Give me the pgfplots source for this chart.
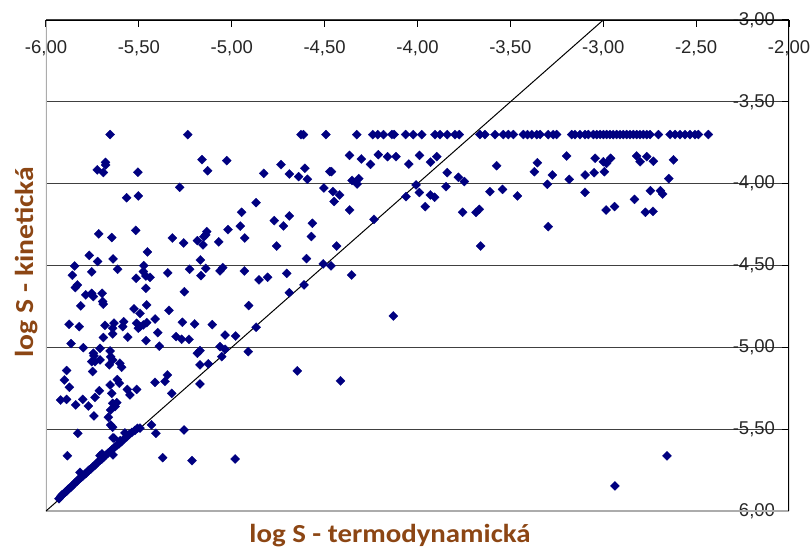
\documentclass[border=0pt]{standalone}
\usepackage{pgfplots}
\pgfplotsset{compat=1.18}
\usepackage{pgfplotstable}
\usepackage{fontspec}
\setmainfont{Liberation Sans}
\newfontfamily\calibri{Carlito}
\definecolor{navy}{RGB}{0,0,128}
\definecolor{lbl}{RGB}{140,70,20}

\pgfplotstableread{
x y
-5.655 -3.70
-5.237 -3.70
-4.627 -3.70
-4.614 -3.70
-4.493 -3.70
-4.327 -3.70
-4.241 -3.70
-4.214 -3.70
-4.183 -3.70
-4.138 -3.70
-4.126 -3.70
-4.064 -3.70
-4.023 -3.70
-3.977 -3.70
-3.906 -3.70
-3.879 -3.70
-3.840 -3.70
-3.798 -3.70
-3.775 -3.70
-3.664 -3.70
-3.637 -3.70
-3.583 -3.70
-3.538 -3.70
-3.511 -3.70
-3.484 -3.70
-3.430 -3.70
-3.408 -3.70
-3.385 -3.70
-3.358 -3.70
-3.340 -3.70
-3.296 -3.70
-3.269 -3.70
-3.251 -3.70
-3.170 -3.70
-3.152 -3.70
-3.125 -3.70
-3.098 -3.70
-3.080 -3.70
-3.053 -3.70
-3.035 -3.70
-3.017 -3.70
-2.999 -3.70
-2.982 -3.70
-2.964 -3.70
-2.946 -3.70
-2.928 -3.70
-2.910 -3.70
-2.892 -3.70
-2.874 -3.70
-2.856 -3.70
-2.838 -3.70
-2.820 -3.70
-2.802 -3.70
-2.784 -3.70
-2.766 -3.70
-2.748 -3.70
-2.703 -3.70
-2.640 -3.70
-2.613 -3.70
-2.587 -3.70
-2.560 -3.70
-2.533 -3.70
-2.506 -3.70
-2.488 -3.70
-2.434 -3.70
}\toprow

\pgfplotstableread{
x y
-5.680 -3.870
-5.724 -3.916
-5.691 -3.932
-5.679 -3.886
-5.505 -3.930
-5.160 -3.853
-5.027 -3.859
-5.130 -3.921
-5.280 -4.022
-5.566 -4.086
-5.503 -4.075
-4.947 -4.175
-4.954 -4.259
-4.930 -4.332
-5.020 -4.281
-5.135 -4.293
-5.140 -4.313
-5.150 -4.324
-5.185 -4.348
-5.155 -4.374
-5.070 -4.356
-5.259 -4.362
-5.320 -4.332
-5.517 -4.285
-5.646 -4.329
-5.716 -4.307
-5.454 -4.417
-5.767 -4.438
-5.722 -4.476
-5.639 -4.460
-5.846 -4.503
-5.614 -4.523
-5.474 -4.501
-5.476 -4.537
-5.754 -4.539
-5.858 -4.560
-5.515 -4.578
-5.462 -4.564
-5.440 -4.572
-5.345 -4.545
-5.227 -4.523
-5.169 -4.466
-5.140 -4.517
-5.166 -4.562
-5.063 -4.533
-5.049 -4.513
-4.932 -4.533
-5.831 -4.619
-5.842 -4.635
-5.786 -4.680
-5.754 -4.670
-5.745 -4.690
-5.698 -4.670
-5.695 -4.720
-5.692 -4.736
-5.813 -4.747
-5.462 -4.639
-5.255 -4.660
-5.458 -4.741
-5.526 -4.765
-5.494 -4.792
-5.338 -4.774
-4.909 -4.745
-5.876 -4.859
-5.821 -4.873
-5.682 -4.866
-5.634 -4.852
-5.641 -4.883
-5.582 -4.843
-5.587 -4.873
-5.641 -4.918
-5.691 -4.940
-5.560 -4.938
-5.512 -4.853
-5.494 -4.873
-5.503 -4.883
-5.476 -4.863
-5.458 -4.849
-5.413 -4.827
-5.398 -4.910
-5.462 -4.959
-5.266 -4.847
-5.200 -4.857
-5.105 -4.861
-5.300 -4.934
-5.270 -4.951
-5.230 -4.951
-5.036 -4.925
-4.979 -4.931
-5.865 -4.977
-5.799 -5.002
-5.709 -5.006
-5.745 -5.036
-5.742 -5.052
-5.754 -5.087
-5.736 -5.087
-5.709 -5.077
-5.749 -5.148
-5.655 -5.022
-5.652 -5.057
-5.641 -5.077
-5.602 -5.097
-5.593 -5.122
-5.659 -5.107
-5.390 -4.993
-5.185 -5.036
-5.171 -5.020
-5.063 -4.996
-5.036 -5.012
-4.911 -5.026
-5.171 -5.107
-5.126 -5.101
-5.054 -5.057
-5.889 -5.142
-5.901 -5.199
-5.874 -5.244
-5.921 -5.322
-5.889 -5.318
-5.840 -5.352
-5.802 -5.318
-5.772 -5.358
-5.736 -5.306
-5.713 -5.265
-5.742 -5.419
-5.655 -5.230
-5.616 -5.197
-5.605 -5.220
-5.646 -5.281
-5.641 -5.342
-5.619 -5.338
-5.628 -5.362
-5.652 -5.383
-5.664 -5.427
-5.562 -5.257
-5.548 -5.291
-5.512 -5.257
-5.652 -5.474
-5.641 -5.488
-5.634 -5.555
-5.413 -5.214
-5.359 -5.208
-5.347 -5.169
-5.323 -5.281
-5.171 -5.224
-5.494 -5.494
-5.432 -5.474
-5.408 -5.525
-5.257 -5.505
-5.829 -5.525
-5.885 -5.662
-5.372 -5.674
-5.214 -5.692
-4.982 -5.682
-5.817 -5.764
-5.709 -5.662
-5.700 -5.678
-5.698 -5.651
-5.639 -5.657
-5.639 -5.553
-5.575 -5.523
-5.600 -5.570
-4.735 -3.884
-4.828 -3.937
-4.690 -3.941
-4.640 -3.957
-4.606 -3.906
-4.593 -3.973
-4.472 -3.926
-4.463 -3.926
-4.504 -4.026
-4.455 -4.048
-4.419 -4.069
-4.449 -4.109
-4.352 -3.980
-4.316 -3.969
-4.325 -4.002
-4.365 -4.161
-4.869 -4.116
-4.366 -3.827
-4.211 -3.823
-4.161 -3.835
-4.116 -3.835
-4.302 -3.849
-4.253 -3.882
-4.047 -3.880
-3.989 -3.827
-3.930 -3.869
-3.896 -3.835
-3.840 -3.933
-3.847 -4.018
-4.771 -4.226
-4.722 -4.258
-4.690 -4.197
-4.566 -4.242
-4.571 -4.323
-4.758 -4.381
-4.435 -4.381
-4.598 -4.458
-4.507 -4.490
-4.466 -4.502
-4.234 -4.218
-4.062 -4.079
-4.008 -4.008
-3.990 -4.054
-3.931 -4.069
-3.908 -4.083
-3.958 -4.140
-4.853 -4.588
-4.807 -4.572
-4.704 -4.548
-4.355 -4.558
-4.611 -4.619
-4.690 -4.666
-4.130 -4.808
-4.869 -4.877
-3.197 -3.831
-3.044 -3.845
-2.999 -3.866
-2.982 -3.876
-2.960 -3.845
-2.994 -3.927
-3.049 -3.933
-2.820 -3.831
-2.802 -3.866
-2.766 -3.835
-2.730 -3.863
-2.622 -3.855
-2.647 -3.969
-3.574 -3.890
-3.355 -3.872
-3.371 -3.927
-3.274 -3.947
-3.301 -4.004
-3.183 -3.974
-3.098 -3.947
-3.098 -4.053
-3.780 -3.961
-3.748 -3.987
-3.610 -4.049
-3.542 -4.035
-3.462 -4.075
-3.757 -4.175
-3.685 -4.175
-3.667 -4.157
-3.660 -4.381
-3.296 -4.262
-2.985 -4.161
-2.939 -4.140
-2.832 -4.096
-2.746 -4.043
-2.692 -4.043
-2.680 -4.063
-2.773 -4.175
-2.732 -4.169
-4.647 -5.144
-4.415 -5.205
-2.937 -5.847
-2.657 -5.663
-5.930 -5.925
-5.920 -5.910
-5.912 -5.900
-5.905 -5.895
-5.897 -5.885
-5.890 -5.880
-5.882 -5.868
-5.875 -5.862
-5.866 -5.855
-5.858 -5.845
-5.850 -5.835
-5.842 -5.826
-5.834 -5.820
-5.826 -5.808
-5.818 -5.800
-5.810 -5.795
-5.800 -5.785
-5.792 -5.775
-5.783 -5.768
-5.775 -5.757
-5.766 -5.748
-5.757 -5.742
-5.748 -5.730
-5.738 -5.722
-5.729 -5.712
-5.720 -5.700
-5.710 -5.692
-5.700 -5.683
-5.690 -5.672
-5.680 -5.660
-5.668 -5.648
-5.656 -5.637
-5.645 -5.625
-5.632 -5.612
-5.620 -5.600
-5.607 -5.590
-5.594 -5.576
-5.580 -5.560
-5.566 -5.548
-5.552 -5.532
-5.538 -5.520
-5.522 -5.508
-5.508 -5.495
}\others

\begin{document}
\begin{tikzpicture}
\begin{axis}[
  scale only axis, width=743pt, height=491pt,
  at={(0pt,0pt)}, anchor=south west,
  xmin=-6, xmax=-2, ymin=-6, ymax=-3,
  xtick={-6,-5.5,-5,-4.5,-4,-3.5,-3,-2.5,-2},
  ytick={-6,-5.5,-5,-4.5,-4,-3.5,-3},
  xtick pos=upper, ytick pos=right,
  xticklabel pos=upper, yticklabel pos=right,
  tick align=inside, major tick length=7pt,
  tick style={black, line width=1.2pt},
  axis line style={draw=none},
  ymajorgrids, grid style={black!75, line width=1.3pt},
  xticklabel style={font=\fontsize{18.5}{20}\selectfont, text=black!85, anchor=center, yshift=-28pt},
  yticklabel style={font=\fontsize{18.5}{20}\selectfont, text=black!85, anchor=east, xshift=-10.5pt},
  /pgf/number format/fixed,
  /pgf/number format/fixed zerofill,
  /pgf/number format/precision=2,
  /pgf/number format/use comma,
  /pgf/number format/assume math mode=true,
]
\draw[gray!65, line width=1.8pt] (rel axis cs:0,1) -- (rel axis cs:0,0) -- (rel axis cs:1,0);
\addplot[black, line width=1pt] coordinates {(-6,-6) (-3,-3)};
\addplot[only marks, mark=square*, mark size=3.2pt, color=navy, mark options={rotate=45, fill=navy, draw=navy, line width=0.3pt}] table[x=x, y=y] {\toprow};
\addplot[only marks, mark=square*, mark size=3.2pt, color=navy, mark options={rotate=45, fill=navy, draw=navy, line width=0.3pt}] table[x=x, y=y] {\others};
\draw[black, line width=1.5pt] (rel axis cs:0,1) -- (rel axis cs:1,1) -- (rel axis cs:1,0);
\end{axis}
\node[anchor=base, text=lbl, font=\calibri\bfseries\fontsize{26}{30}\selectfont] at (344pt,-31pt) {\scalebox{1.11}[1]{log S - termodynamická}};
\node[rotate=90, anchor=base, text=lbl, font=\calibri\bfseries\fontsize{26}{30}\selectfont] at (-13pt,249pt) {\scalebox{1.14}[1]{log S - kinetická}};
\pgfresetboundingbox
\path[use as bounding box] (-46pt,-36pt) rectangle (765pt,511pt);
\end{tikzpicture}
\end{document}
